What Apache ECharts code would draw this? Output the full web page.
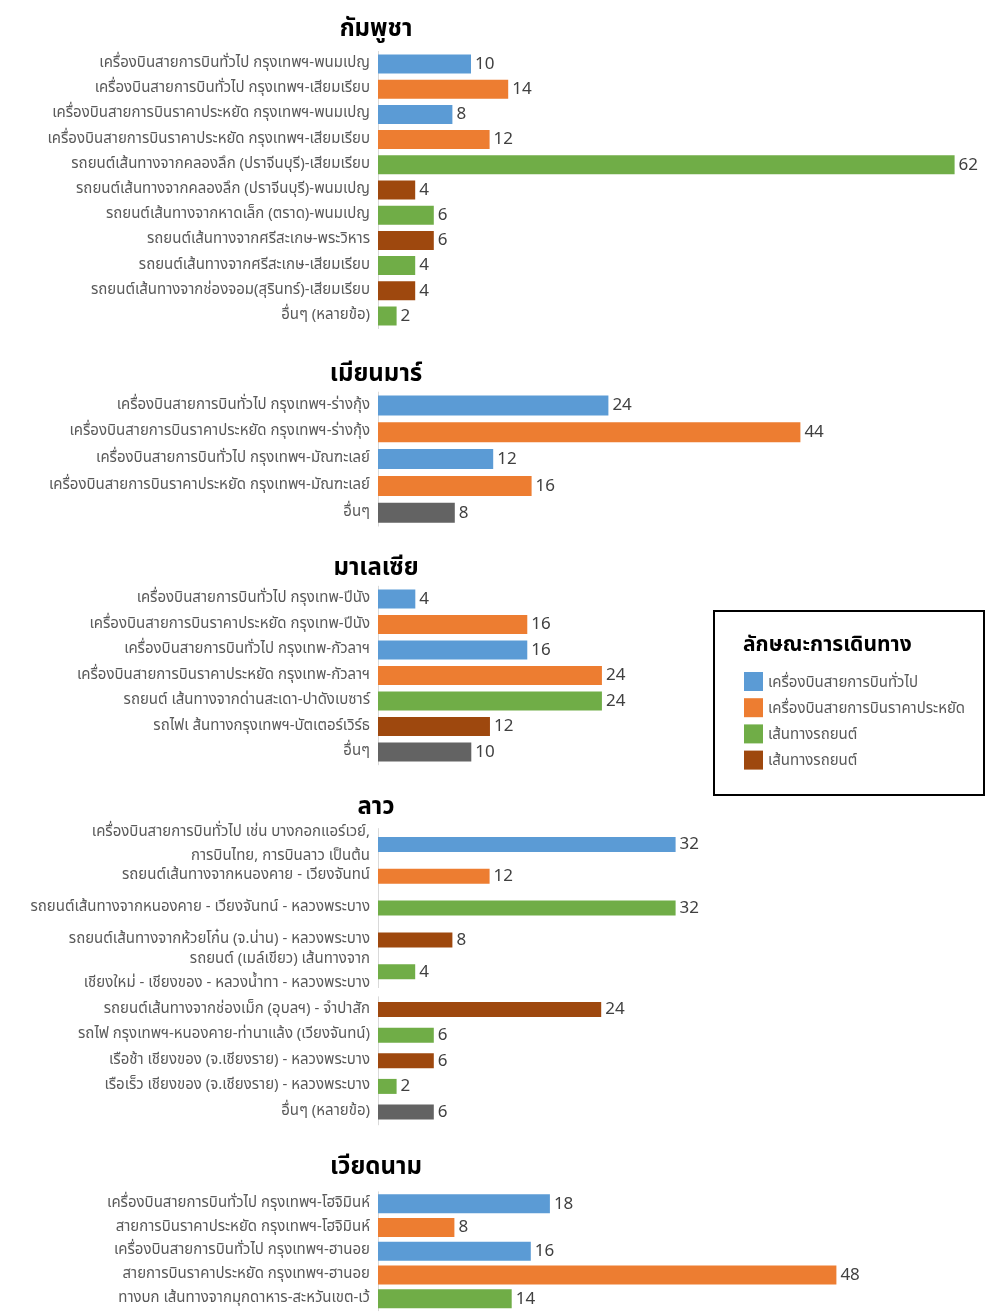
<!DOCTYPE html>
<html>
<head>
<meta charset="utf-8">
<script src="https://cdn.jsdelivr.net/npm/echarts@6/dist/echarts.min.js"></script>
<style>
  html, body { margin: 0; padding: 0; background: #fff; }
  #chart { width: 985px; height: 1313px; }
</style>
</head>
<body>
<div id="chart"></div>
<script>
// 0 ทั่วไป, 1 ราคาประหยัด, 2 รถยนต์ (เขียว), 3 รถยนต์ (น้ำตาล), 4 อื่นๆ
var typeColors = ['#5B9BD5', '#ED7D31', '#70AD47', '#9E480E', '#636363'];

var legendTitle = 'ลักษณะการเดินทาง';
var legendNames = ['เครื่องบินสายการบินทั่วไป', 'เครื่องบินสายการบินราคาประหยัด', 'เส้นทางรถยนต์', 'เส้นทางรถยนต์'];

var cambodiaLabels = [
  'เครื่องบินสายการบินทั่วไป กรุงเทพฯ-พนมเปญ',
  'เครื่องบินสายการบินทั่วไป กรุงเทพฯ-เสียมเรียบ',
  'เครื่องบินสายการบินราคาประหยัด กรุงเทพฯ-พนมเปญ',
  'เครื่องบินสายการบินราคาประหยัด กรุงเทพฯ-เสียมเรียบ',
  'รถยนต์เส้นทางจากคลองลึก (ปราจีนบุรี)-เสียมเรียบ',
  'รถยนต์เส้นทางจากคลองลึก (ปราจีนบุรี)-พนมเปญ',
  'รถยนต์เส้นทางจากหาดเล็ก (ตราด)-พนมเปญ',
  'รถยนต์เส้นทางจากศรีสะเกษ-พระวิหาร',
  'รถยนต์เส้นทางจากศรีสะเกษ-เสียมเรียบ',
  'รถยนต์เส้นทางจากช่องจอม(สุรินทร์)-เสียมเรียบ',
  'อื่นๆ (หลายข้อ)'
];
var cambodiaValues = [10, 14, 8, 12, 62, 4, 6, 6, 4, 4, 2];
var cambodiaTypes = [0, 1, 0, 1, 2, 3, 2, 3, 2, 3, 2];

var myanmarLabels = [
  'เครื่องบินสายการบินทั่วไป กรุงเทพฯ-ร่างกุ้ง',
  'เครื่องบินสายการบินราคาประหยัด กรุงเทพฯ-ร่างกุ้ง',
  'เครื่องบินสายการบินทั่วไป กรุงเทพฯ-มัณฑะเลย์',
  'เครื่องบินสายการบินราคาประหยัด กรุงเทพฯ-มัณฑะเลย์',
  'อื่นๆ'
];
var myanmarValues = [24, 44, 12, 16, 8];
var myanmarTypes = [0, 1, 0, 1, 4];

var malaysiaLabels = [
  'เครื่องบินสายการบินทั่วไป กรุงเทพ-ปีนัง',
  'เครื่องบินสายการบินราคาประหยัด กรุงเทพ-ปีนัง',
  'เครื่องบินสายการบินทั่วไป กรุงเทพ-กัวลาฯ',
  'เครื่องบินสายการบินราคาประหยัด กรุงเทพ-กัวลาฯ',
  'รถยนต์ เส้นทางจากด่านสะเดา-ปาดังเบซาร์',
  'รถไฟเ ส้นทางกรุงเทพฯ-บัตเตอร์เวิร์ธ',
  'อื่นๆ'
];
var malaysiaValues = [4, 16, 16, 24, 24, 12, 10];
var malaysiaTypes = [0, 1, 0, 1, 2, 3, 4];

var laosLabels = [
  'เครื่องบินสายการบินทั่วไป เช่น บางกอกแอร์เวย์,\nการบินไทย, การบินลาว เป็นต้น',
  'รถยนต์เส้นทางจากหนองคาย - เวียงจันทน์',
  'รถยนต์เส้นทางจากหนองคาย - เวียงจันทน์ - หลวงพระบาง',
  'รถยนต์เส้นทางจากห้วยโก๋น (จ.น่าน) - หลวงพระบาง',
  'รถยนต์ (เมล์เขียว) เส้นทางจาก\nเชียงใหม่ - เชียงของ - หลวงน้ำทา - หลวงพระบาง',
  'รถยนต์เส้นทางจากช่องเม็ก (อุบลฯ) - จำปาสัก',
  'รถไฟ กรุงเทพฯ-หนองคาย-ท่านาแล้ง (เวียงจันทน์)',
  'เรือช้า เชียงของ (จ.เชียงราย) - หลวงพระบาง',
  'เรือเร็ว เชียงของ (จ.เชียงราย) - หลวงพระบาง',
  'อื่นๆ (หลายข้อ)'
];
var laosValues = [32, 12, 32, 8, 4, 24, 6, 6, 2, 6];
var laosTypes = [0, 1, 2, 3, 2, 3, 2, 3, 2, 4];

var vietnamLabels = [
  'เครื่องบินสายการบินทั่วไป กรุงเทพฯ-โฮจิมินห์',
  'สายการบินราคาประหยัด กรุงเทพฯ-โฮจิมินห์',
  'เครื่องบินสายการบินทั่วไป กรุงเทพฯ-ฮานอย',
  'สายการบินราคาประหยัด กรุงเทพฯ-ฮานอย',
  'ทางบก เส้นทางจากมุกดาหาร-สะหวันเขต-เว้'
];
var vietnamValues = [18, 8, 16, 48, 14];
var vietnamTypes = [0, 1, 0, 1, 2];

var thaiFont = "'Noto Sans Thai', 'Noto Sans Thai UI', Tahoma, Loma, Garuda, 'Noto Sans', sans-serif";

// layout: block = rows from..to, first row centre, row step (px)
var sections = [
  { title: 'กัมพูชา', titleY: 31, labels: cambodiaLabels, values: cambodiaValues, types: cambodiaTypes,
    ppu: 9.3, barW: 19, blocks: [{ from: 0, to: 11, first: 64, step: 25.2 }] },
  { title: 'เมียนมาร์', titleY: 376, labels: myanmarLabels, values: myanmarValues, types: myanmarTypes,
    ppu: 9.6, barW: 20, blocks: [{ from: 0, to: 5, first: 405.5, step: 26.8 }] },
  { title: 'มาเลเซีย', titleY: 570, labels: malaysiaLabels, values: malaysiaValues, types: malaysiaTypes,
    ppu: 9.33, barW: 19, blocks: [{ from: 0, to: 7, first: 599, step: 25.5 }] },
  { title: 'ลาว', titleY: 809, labels: laosLabels, values: laosValues, types: laosTypes,
    ppu: 9.3, barW: 15, blocks: [{ from: 0, to: 5, first: 844.5, step: 31.8 }, { from: 5, to: 10, first: 1009.6, step: 25.6 }] },
  { title: 'เวียดนาม', titleY: 1169, labels: vietnamLabels, values: vietnamValues, types: vietnamTypes,
    ppu: 9.55, barW: 19, blocks: [{ from: 0, to: 5, first: 1204.5, step: 25.4 }] }
];

var gridW = 600;
var grids = [], xAxes = [], yAxes = [], series = [], graphics = [];

sections.forEach(function (sec) {
  graphics.push({
    type: 'text', x: 376, y: sec.titleY, silent: true,
    style: { text: sec.title, fill: '#000', font: 'bold 24px ' + thaiFont, align: 'center', verticalAlign: 'middle' }
  });
  sec.blocks.forEach(function (b) {
    var idx = grids.length;
    var n = b.to - b.from;
    grids.push({ left: 378, top: b.first - b.step / 2, width: gridW, height: n * b.step });
    xAxes.push({ gridIndex: idx, type: 'value', min: 0, max: gridW / sec.ppu, show: false });
    yAxes.push({
      gridIndex: idx,
      type: 'category',
      inverse: true,
      data: sec.labels.slice(b.from, b.to),
      axisLine: { show: true, lineStyle: { color: '#D9D9D9', width: 1 } },
      axisTick: { show: false },
      axisLabel: {
        interval: 0, showMinLabel: true, showMaxLabel: true, hideOverlap: false,
        color: '#595959', fontSize: 15, fontFamily: thaiFont, margin: 8, lineHeight: 24,
        padding: [6, 0, 0, 0]
      }
    });
    series.push({
      type: 'bar',
      xAxisIndex: idx,
      yAxisIndex: idx,
      barWidth: sec.barW,
      data: sec.values.slice(b.from, b.to).map(function (v, i) {
        return { value: v, itemStyle: { color: typeColors[sec.types[b.from + i]] } };
      }),
      label: {
        show: true, position: 'right', distance: 4,
        color: '#404040', fontSize: 17, fontFamily: "'Noto Sans', sans-serif"
      }
    });
  });
});

// legend box
graphics.push({
  type: 'rect', silent: true,
  shape: { x: 714, y: 611, width: 270, height: 184 },
  style: { fill: '#fff', stroke: '#000', lineWidth: 2 }
});
graphics.push({
  type: 'text', x: 743, y: 647, silent: true,
  style: { text: legendTitle, fill: '#000', font: 'bold 21px ' + thaiFont, verticalAlign: 'middle' }
});
legendNames.forEach(function (name, i) {
  var cy = 681.5 + i * 26.2;
  graphics.push({
    type: 'rect', silent: true,
    shape: { x: 744, y: cy - 9.5, width: 19, height: 19 },
    style: { fill: typeColors[i] }
  });
  graphics.push({
    type: 'text', x: 768, y: cy + 2, silent: true,
    style: { text: name, fill: '#595959', font: '15px ' + thaiFont, verticalAlign: 'middle' }
  });
});

var chart = echarts.init(document.getElementById('chart'));
chart.setOption({
  animation: false,
  backgroundColor: '#fff',
  grid: grids,
  xAxis: xAxes,
  yAxis: yAxes,
  series: series,
  graphic: graphics
});
</script>
</body>
</html>
